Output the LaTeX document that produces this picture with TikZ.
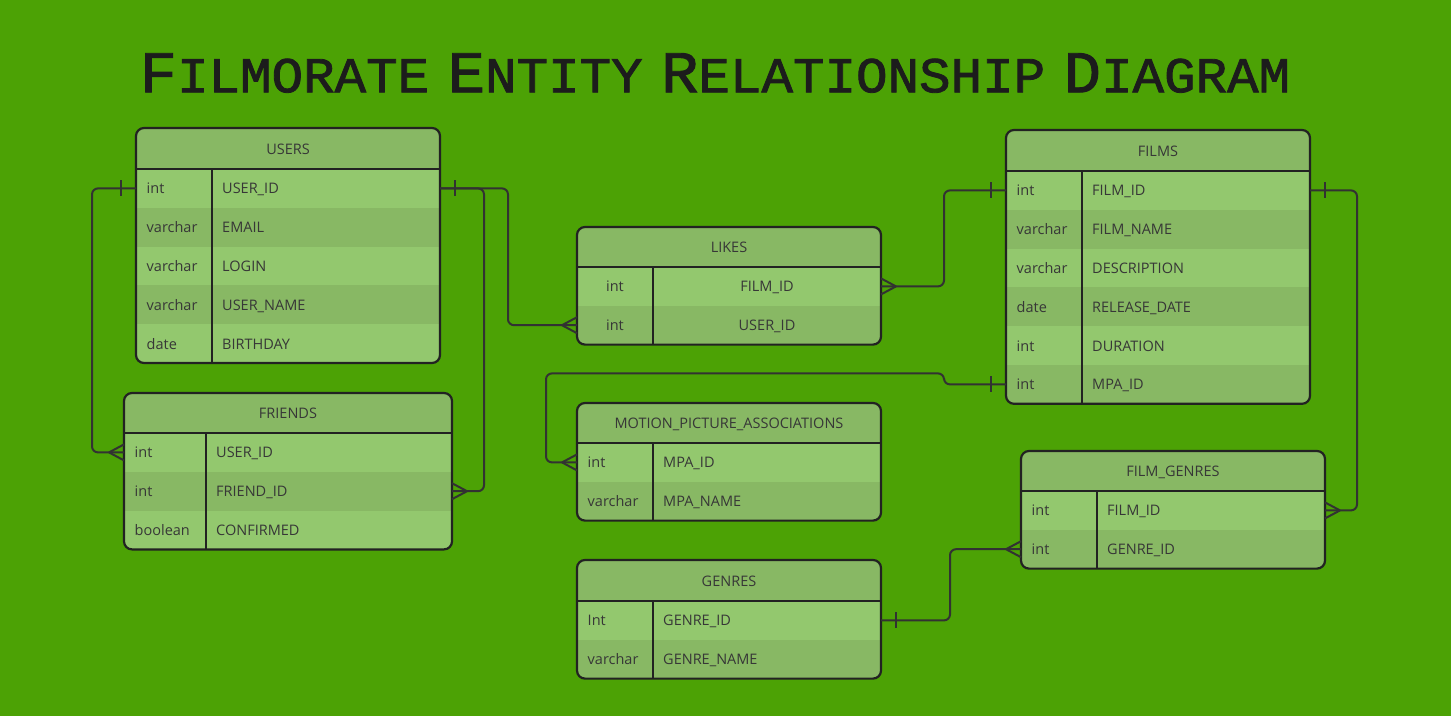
\documentclass[tikz,border=0pt]{standalone}
\usepackage{fontspec}
\usepackage{graphicx}
\setmainfont{Open Sans}
\newfontfamily\titlefont[FakeBold=1.6]{Liberation Mono}
\usetikzlibrary{calc}
\definecolor{bg}{RGB}{76,162,5}
\definecolor{rowlight}{RGB}{147,200,110}
\definecolor{rowdark}{RGB}{136,184,100}
\definecolor{hdrfill}{RGB}{136,184,100}
\definecolor{ink}{RGB}{34,34,34}
\definecolor{txtc}{RGB}{55,55,55}
\definecolor{wirec}{RGB}{50,50,50}
\definecolor{titlec}{RGB}{28,28,28}
\newif\ifcentercells
\newcommand\fsc[1]{{\fontsize{14.4}{15}\selectfont #1}}
\newcommand\tgap{\hspace{0.3em}}
\tikzset{
  x=1pt, y=-1pt,
  tabborder/.style={draw=ink, line width=2.2pt},
  divline/.style={draw=ink, line width=1.8pt},
  rowbox/.style={inner sep=0pt, outer sep=0pt, draw=none},
  celltext/.style={inner sep=0pt, text=txtc, font=\fontsize{14.5}{17}\selectfont},
  hdrtext/.style={inner sep=0pt, text=txtc, font=\fontsize{14.5}{17}\selectfont},
  wire/.style={draw=wirec, line width=2pt, rounded corners=6pt},
  wireplain/.style={draw=wirec, line width=2pt},
  titletext/.style={inner sep=0pt, text=titlec},
  pics/crowfoot/.style={code={\draw[wireplain] (-15,0) -- (0,-8) (-15,0) -- (0,8);}},
  pics/onetick/.style={code={\draw[wireplain] (-15,-8) -- (-15,8);}}
}
% #1 name, #2 left, #3 right, #4 top, #5 header bottom, #6 divider x, #7 header text, #8 rows type/name
\newcommand\ertable[8]{%
  \foreach [count=\k] \a in {#8} {\xdef\ertn{\k}}%
  \pgfmathsetmacro\ertB{#5+38.8*\ertn}%
  \begin{scope}
    \clip[rounded corners=8pt] (#2,#4) rectangle (#3,\ertB);
    \fill[hdrfill] (#2,#4) rectangle (#3,#5);
    \foreach [count=\k] \ty/\nm in {#8} {%
      \pgfmathsetmacro\ya{#5+38.8*(\k-1)}%
      \pgfmathsetmacro\yb{#5+38.8*\k}%
      \ifodd\k\relax \fill[rowlight] (#2,\ya) rectangle (#3,\yb);\else \fill[rowdark] (#2,\ya) rectangle (#3,\yb);\fi
    }
  \end{scope}
  \draw[tabborder, rounded corners=8pt] (#2,#4) rectangle (#3,\ertB);
  \draw[tabborder] (#2,#5) -- (#3,#5);
  \draw[divline] (#6,#5) -- (#6,\ertB);
  \node[hdrtext, anchor=base] (#1) at ({(#2+#3)/2},{(#4+#5)/2+5.5}) {#7};
  \foreach [count=\k] \ty/\nm in {#8} {%
    \pgfmathsetmacro\yc{#5+38.8*(\k-0.5)}%
    \node[rowbox, minimum width={#3-#2}, minimum height=38.8] (#1-\k) at ({(#2+#3)/2},\yc) {};
    \ifcentercells
      \node[celltext, anchor=base] at ({(#2+#6)/2},{\yc+5.5}) {\ty};
      \node[celltext, anchor=base] at ({(#6+#3)/2},{\yc+5.5}) {\nm};
    \else
      \node[celltext, anchor=base west] at ({#2+10.5},{\yc+5.5}) {\ty};
      \node[celltext, anchor=base west] at ({#6+10},{\yc+5.5}) {\nm};
    \fi
  }%
}
\begin{document}
\begin{tikzpicture}
\useasboundingbox (0,0) rectangle (1451,716);
\fill[bg] (0,0) rectangle (1451,716);

% title
\node[titletext] (title) at (715,73) {\resizebox{1150pt}{39pt}{\titlefont\fontsize{17}{18}\selectfont F\fsc{ILMORATE}\tgap E\fsc{NTITY}\tgap R\fsc{ELATIONSHIP}\tgap D\fsc{IAGRAM}}};

% tables
\ertable{users}{136}{440}{128}{169}{212}{USERS}{int/USER\_ID, varchar/EMAIL, varchar/LOGIN, varchar/USER\_NAME, date/BIRTHDAY}
\ertable{friends}{124}{452}{393}{433}{206}{FRIENDS}{int/USER\_ID, int/FRIEND\_ID, boolean/CONFIRMED}
\centercellstrue
\ertable{likes}{577}{881}{227}{267}{653}{LIKES}{int/FILM\_ID, int/USER\_ID}
\centercellsfalse
\ertable{mpa}{577}{881}{403}{443}{653}{MOTION\_PICTURE\_ASSOCIATIONS}{int/MPA\_ID, varchar/MPA\_NAME}
\ertable{genres}{577}{881}{560}{601}{653}{GENRES}{Int/GENRE\_ID, varchar/GENRE\_NAME}
\ertable{films}{1006}{1310}{130}{171}{1082}{FILMS}{int/FILM\_ID, varchar/FILM\_NAME, varchar/DESCRIPTION, date/RELEASE\_DATE, int/DURATION, int/MPA\_ID}
\ertable{fg}{1021}{1325}{451}{491}{1097}{FILM\_GENRES}{int/FILM\_ID, int/GENRE\_ID}

% connectors
\draw[wire] (users-1.west) -- ++(-44,0) |- (friends-1.west);
\draw[wire] (users-1.east) -- ++(44,0) |- (friends-2.east);
\draw[wire] (users-1.east) -- ++(68,0) |- (likes-2.west);
\draw[wire] (films-1.west) -- ++(-62,0) |- (likes-1.east);
\draw[wire] (films-6.west) -- ++(-62,0) -- ++(0,-11) -| ([xshift=-31pt]mpa-1.west) -- (mpa-1.west);
\draw[wire] (films-1.east) -- ++(47,0) |- (fg-1.east);
\draw[wire] (genres-1.east) -- ++(69,0) |- (fg-2.west);

% one-side ticks
\pic at (users-1.west) {onetick};
\pic[xscale=-1] at (users-1.east) {onetick};
\pic at (films-1.west) {onetick};
\pic at (films-6.west) {onetick};
\pic[xscale=-1] at (films-1.east) {onetick};
\pic[xscale=-1] at (genres-1.east) {onetick};

% many-side crow's feet
\pic at (friends-1.west) {crowfoot};
\pic[xscale=-1] at (friends-2.east) {crowfoot};
\pic at (likes-2.west) {crowfoot};
\pic[xscale=-1] at (likes-1.east) {crowfoot};
\pic at (mpa-1.west) {crowfoot};
\pic[xscale=-1] at (fg-1.east) {crowfoot};
\pic at (fg-2.west) {crowfoot};
\end{tikzpicture}
\end{document}
